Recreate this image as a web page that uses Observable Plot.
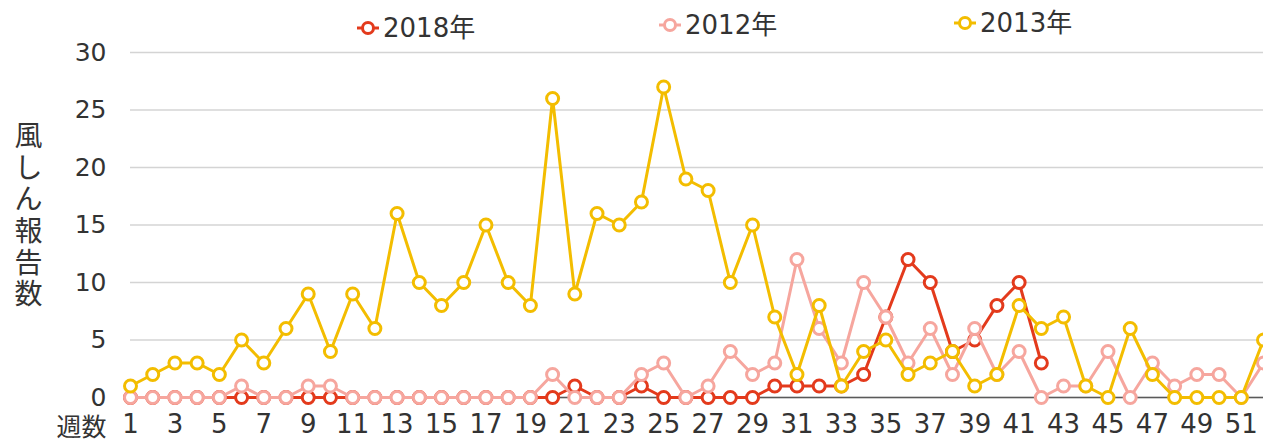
<!DOCTYPE html>
<html>
<head>
<meta charset="utf-8">
<script src="https://cdn.jsdelivr.net/npm/d3@7"></script>
<script src="https://cdn.jsdelivr.net/npm/@observablehq/plot@0.6"></script>
<style>
  html, body { margin: 0; padding: 0; background: #fff; }
  #wrap { position: relative; width: 1263px; height: 440px; font-family: "DejaVu Sans", "Noto Sans CJK JP", sans-serif; color: #333; overflow: hidden; }
  #legend { position: relative; width: 1263px; height: 30px; }
  .item { position: absolute; display: flex; align-items: center; font-size: 26px; line-height: 30px; color: #333; white-space: nowrap; }
  .item svg { margin-right: 3px; }
</style>
</head>
<body>
<div id="wrap">
  <div id="legend"></div>
  <div id="chart"></div>
</div>
<script>
// ---- data ----
const weeks = d3.range(1, 53);
const xTicks = [1,3,5,7,9,11,13,15,17,19,21,23,25,27,29,31,33,35,37,39,41,43,45,47,49,51];
const yTicks = [0, 5, 10, 15, 20, 25, 30];
const seriesNames = ["2018年", "2012年", "2013年"];
const seriesColors = ["#E33A1C", "#F6A69E", "#F3BD00"];

const values2018 = [0,0,0,0,0,0,0,0,0,0, 0,0,0,0,0,0,0,0,0,0,
                    1,0,0,1,0,0,0,0,0,1, 1,1,1,2,7,12,10,4,5,8, 10,3];
const values2012 = [0,0,0,0,0,1,0,0,1,1, 0,0,0,0,0,0,0,0,0,2,
                    0,0,0,2,3,0,1,4,2,3, 12,6,3,10,7,3,6,2,6,2,
                    4,0,1,1,4,0,3,1,2,2, 0,3];
const values2013 = [1,2,3,3,2,5,3,6,9,4, 9,6,16,10,8,10,15,10,8,26,
                    9,16,15,17,27,19,18,10,15,7, 2,8,1,4,5,2,3,4,1,2,
                    8,6,7,1,0,6,2,0,0,0, 0,5];

const allValues = [values2018, values2012, values2013];
const rows = [];
allValues.forEach((vals, i) => {
  vals.forEach((v, j) => rows.push({series: seriesNames[i], week: weeks[j], value: v}));
});

// ---- legend ----
const legendPos = [{left: 356, top: 13}, {left: 658, top: 10}, {left: 953, top: 8}];
const legend = document.getElementById("legend");
seriesNames.forEach((name, i) => {
  const d = document.createElement("div");
  d.className = "item";
  d.style.left = legendPos[i].left + "px";
  d.style.top = legendPos[i].top + "px";
  d.innerHTML = `<svg width="24" height="20"><line x1="1" y1="10" x2="23" y2="10" stroke="${seriesColors[i]}" stroke-width="3"/><circle cx="12" cy="10" r="5.5" fill="#fff" stroke="${seriesColors[i]}" stroke-width="3"/></svg><span>${name}</span>`;
  legend.appendChild(d);
});

// ---- chart ----
const marks = [
  Plot.gridY(yTicks, {stroke: "#d4d4d4", strokeOpacity: 1, strokeWidth: 1.6}),
  Plot.ruleY([0], {stroke: "#5a5a5a", strokeWidth: 1.5}),
  Plot.axisY(yTicks, {tickSize: 0, tickPadding: 24, fontSize: 25, fill: "#333", label: null}),
  Plot.axisX(xTicks, {tickSize: 0, tickPadding: 17, fontSize: 26, fill: "#333", label: null}),
  Plot.text(["風\nし\nん\n報\n告\n数"], {frameAnchor: "left", dx: -102, dy: -10, fontSize: 28, lineHeight: 1.13, textAnchor: "middle", fill: "#333"}),
  Plot.text(["週数"], {frameAnchor: "bottom-left", lineAnchor: "middle", dx: -24, dy: 30, fontSize: 25, textAnchor: "end", fill: "#333"})
];
seriesNames.forEach((name, i) => {
  const data = rows.filter(r => r.series === name);
  marks.push(Plot.lineY(data, {x: "week", y: "value", stroke: seriesColors[i], strokeWidth: 3}));
  marks.push(Plot.dot(data, {x: "week", y: "value", r: 6, stroke: seriesColors[i], strokeWidth: 3, fill: "#fff"}));
});

const chart = Plot.plot({
  width: 1263,
  height: 410,
  marginLeft: 130,
  marginRight: 0,
  marginTop: 22,
  marginBottom: 43,
  style: {fontFamily: "'DejaVu Sans', 'Noto Sans CJK JP', sans-serif", background: "#fff", overflow: "hidden"},
  x: {type: "linear", domain: [1, 52], label: null},
  y: {domain: [0, 30], label: null},
  marks
});
document.getElementById("chart").appendChild(chart);
</script>
</body>
</html>
